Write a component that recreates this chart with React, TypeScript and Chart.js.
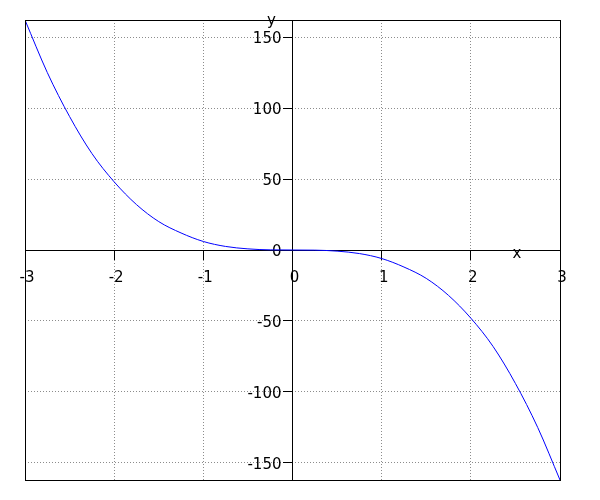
import React, { useEffect, useRef } from "react";
import { Chart, registerables } from "chart.js";

Chart.register(...registerables);

const xValues = [-3, -2.75, -2.5, -2.25, -2, -1.75, -1.5, -1.25, -1, -0.75, -0.5, -0.25, 0, 0.25, 0.5, 0.75, 1, 1.25, 1.5, 1.75, 2, 2.25, 2.5, 2.75, 3];
const yValues = [162, 125, 94, 68, 48, 32, 20, 12, 6, 2.5, 0.8, 0.1, 0, -0.1, -0.8, -2.5, -6, -12, -20, -32, -48, -68, -94, -125, -162];
const xTicks = [-3, -2, -1, 0, 1, 2, 3];
const yTicks = [-150, -100, -50, 0, 50, 100, 150];
const xRange = [-3, 3];
const yRange = [-162, 162];
const xTitle = "x";
const yTitle = "y";

const FONT = "DejaVu Sans";

const framePlugin = {
  id: "frameAndTitles",
  afterDraw(chart: any) {
    const { ctx, chartArea } = chart;
    const xs = chart.scales.x;
    const ys = chart.scales.y;
    ctx.save();
    ctx.strokeStyle = "#000";
    ctx.lineWidth = 1;
    ctx.setLineDash([]);
    ctx.strokeRect(
      Math.round(chartArea.left) + 0.5,
      Math.round(chartArea.top) + 0.5,
      Math.round(chartArea.right - chartArea.left),
      Math.round(chartArea.bottom - chartArea.top)
    );
    ctx.fillStyle = "#000";
    ctx.font = `15px "${FONT}"`;
    ctx.textAlign = "center";
    ctx.textBaseline = "alphabetic";
    const y0 = ys.getPixelForValue(0);
    const x0 = xs.getPixelForValue(0);
    ctx.fillText(xTitle, chartArea.right - 43, y0 + 8);
    ctx.fillText(yTitle, x0 - 21, chartArea.top + 5);
    ctx.restore();
  },
};

export default function App() {
  const canvasRef = useRef<HTMLCanvasElement | null>(null);

  useEffect(() => {
    if (!canvasRef.current) return;
    const data = xValues.map((x, i) => ({ x, y: yValues[i] }));
    const gridCommon = {
      color: "rgb(140,140,140)",
      lineWidth: 1,
      drawTicks: true,
      tickLength: 9,
      tickColor: "#000",
      tickWidth: 1,
      tickBorderDash: [],
    };
    const borderCommon = { display: true, color: "#000", width: 1, dash: [1, 2] };
    const chart = new Chart(canvasRef.current, {
      type: "scatter",
      data: {
        datasets: [
          {
            data,
            showLine: true,
            borderColor: "#0000ff",
            borderWidth: 1,
            pointRadius: 0,
            fill: false,
            cubicInterpolationMode: "monotone",
          },
        ],
      },
      plugins: [framePlugin],
      options: {
        animation: false,
        responsive: true,
        maintainAspectRatio: false,
        layout: { padding: { left: 25, top: 20, right: 40, bottom: 20 } },
        plugins: {
          legend: { display: false },
          tooltip: { enabled: false },
          title: { display: false },
        },
        scales: {
          x: {
            type: "linear",
            position: { y: 0 },
            min: xRange[0],
            max: xRange[1],
            afterBuildTicks: (s: any) => {
              s.ticks = xTicks.map((v) => ({ value: v }));
            },
            ticks: {
              autoSkip: false,
              maxRotation: 0,
              padding: 10,
              labelOffset: 2,
              color: "#000",
              font: { family: FONT, size: 15 },
            },
            grid: gridCommon,
            border: borderCommon,
          },
          y: {
            type: "linear",
            position: { x: 0 },
            min: yRange[0],
            max: yRange[1],
            afterBuildTicks: (s: any) => {
              s.ticks = yTicks.map((v) => ({ value: v }));
            },
            ticks: {
              autoSkip: false,
              labelOffset: 2,
              color: "#000",
              font: { family: FONT, size: 15 },
              callback: (v: any) => String(v) + "  \u200A",
            },
            grid: gridCommon,
            border: borderCommon,
          },
        },
      } as any,
    });
    return () => chart.destroy();
  }, []);

  return (
    <div style={{ position: "absolute", left: 0, top: 0, width: 600, height: 500, background: "#fff" }}>
      <canvas ref={canvasRef} />
    </div>
  );
}
